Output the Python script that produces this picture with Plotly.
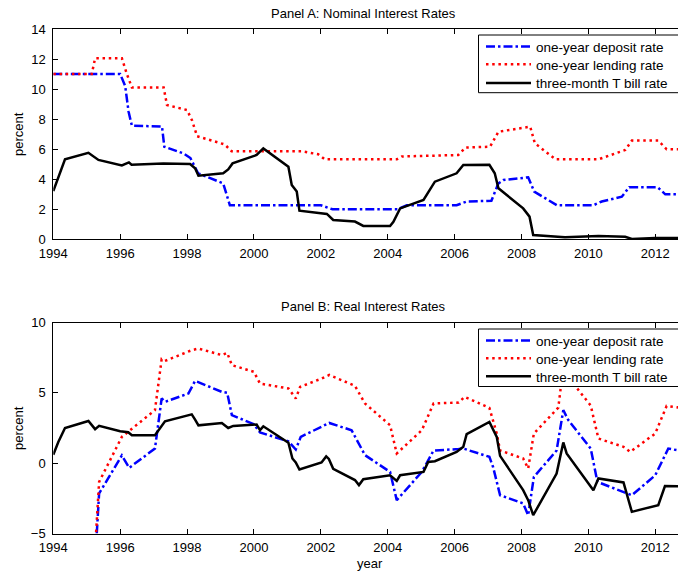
import plotly.graph_objects as go

# ---------------- data ----------------
years_ticks = [1994, 1996, 1998, 2000, 2002, 2004, 2006, 2008, 2010, 2012]
series_names = ["one-year deposit rate", "one-year lending rate", "three-month T bill rate"]

# Panel A: nominal
dep_nom_x = [1994.0, 1996.0, 1996.15, 1996.25, 1996.35, 1997.25, 1997.32, 1997.9, 1998.1, 1998.33,
             1999.08, 1999.28, 2002.0, 2002.35, 2004.3, 2004.57, 2006.06, 2006.36, 2007.1, 2007.31,
             2007.46, 2008.2, 2008.38, 2009.06, 2010.15, 2010.4, 2011.0, 2011.22, 2012.07, 2012.3, 2012.7]
dep_nom = [11.0, 11.0, 10.2, 8.5, 7.55, 7.5, 6.15, 5.7, 5.4, 4.38,
           3.71, 2.25, 2.25, 1.98, 1.98, 2.25, 2.25, 2.5, 2.55, 3.71,
           3.93, 4.11, 3.16, 2.25, 2.25, 2.5, 2.82, 3.45, 3.45, 2.98, 2.98]

len_nom_x = [1994.0, 1995.15, 1995.25, 1996.05, 1996.2, 1996.35, 1997.3, 1997.4, 1998.0, 1998.15,
             1998.3, 1999.13, 1999.33, 2001.43, 2001.92, 2002.12, 2004.27, 2004.42, 2006.11, 2006.33,
             2007.06, 2007.31, 2008.26, 2008.4, 2009.02, 2010.3, 2011.1, 2011.3, 2012.09, 2012.34, 2012.7]
len_nom = [11.0, 11.0, 12.05, 12.05, 11.0, 10.1, 10.1, 8.93, 8.6, 7.9,
           6.85, 6.3, 5.85, 5.85, 5.65, 5.31, 5.31, 5.5, 5.6, 6.1,
           6.15, 7.15, 7.49, 6.38, 5.31, 5.31, 5.93, 6.56, 6.56, 5.98, 5.98]

tb_nom_x = [1994.0, 1994.2, 1994.35, 1995.05, 1995.35, 1996.05, 1996.26, 1996.34, 1997.29, 1998.09,
            1998.24, 1998.34, 1999.08, 1999.23, 1999.36, 2000.08, 2000.18, 2000.28, 2001.03, 2001.13,
            2001.28, 2001.36, 2002.18, 2002.37, 2003.02, 2003.27, 2004.07, 2004.17, 2004.37, 2005.07,
            2005.41, 2006.06, 2006.26, 2007.04, 2007.2, 2007.31, 2008.05, 2008.24, 2008.35, 2009.3,
            2010.3, 2011.1, 2011.3, 2012.0, 2012.7]
tb_nom = [3.2, 4.4, 5.31, 5.75, 5.27, 4.9, 5.11, 4.95, 5.04, 5.0,
          4.71, 4.22, 4.38, 4.64, 5.04, 5.6, 5.82, 6.04, 4.82, 3.6,
          3.16, 1.89, 1.67, 1.27, 1.16, 0.87, 0.87, 1.15, 2.04, 2.6,
          3.82, 4.38, 4.93, 4.95, 4.38, 3.38, 2.04, 1.49, 0.27, 0.11,
          0.2, 0.15, 0.0, 0.07, 0.07]

# Panel B: real
dep_real_x = [1995.3, 1995.37, 1996.05, 1996.27, 1997.04, 1997.24, 1997.34, 1998.04, 1998.24, 1999.04,
              1999.2, 1999.34, 2000.0, 2000.18, 2001.03, 2001.25, 2001.4, 2002.25, 2002.92, 2003.32,
              2004.07, 2004.27, 2005.02, 2005.37, 2006.12, 2006.26, 2007.04, 2007.15, 2007.36, 2008.05,
              2008.2, 2008.37, 2009.05, 2009.25, 2009.4, 2010.07, 2010.27, 2011.05, 2011.3, 2012.0,
              2012.39, 2012.7]
dep_real = [-5.0, -2.15, 0.55, -0.33, 1.04, 4.6, 4.36, 4.95, 5.85, 5.07,
            5.0, 3.41, 2.77, 2.18, 1.55, 0.97, 1.87, 2.86, 2.34, 0.57,
            -0.62, -2.63, -0.62, 0.9, 1.0, 1.04, 0.45, -0.27, -2.28, -2.86,
            -3.7, -0.98, 0.9, 3.77, 3.06, 1.04, -1.33, -2.04, -2.28, -0.86,
            1.04, 0.9]

len_real_x = [1995.28, 1995.37, 1996.05, 1996.27, 1997.04, 1997.24, 1997.34, 1998.14, 1998.34, 1999.04,
              1999.2, 1999.34, 2000.0, 2000.18, 2001.03, 2001.25, 2001.38, 2002.03, 2002.25, 2003.02,
              2003.32, 2004.07, 2004.27, 2005.02, 2005.37, 2006.12, 2006.3, 2007.04, 2007.26, 2007.36,
              2008.05, 2008.2, 2008.37, 2009.1, 2009.25, 2009.4, 2010.07, 2010.3, 2011.05, 2011.25,
              2012.0, 2012.34, 2012.7]
len_real = [-4.9, -1.33, 1.87, 2.3, 3.77, 7.39, 7.27, 8.03, 8.15, 7.68,
            7.84, 6.97, 6.49, 5.66, 5.31, 4.6, 5.42, 6.02, 6.27, 5.5,
            4.24, 2.7, 0.69, 2.34, 4.24, 4.31, 4.71, 3.93, 2.11, 0.9,
            0.33, -0.38, 2.11, 3.95, 6.8, 6.1, 4.1, 1.75, 1.16, 0.8,
            2.11, 4.07, 3.96]

tb_real_x = [1994.0, 1994.15, 1994.35, 1995.05, 1995.25, 1995.37, 1996.0, 1996.24, 1996.35, 1997.04,
             1997.34, 1998.14, 1998.24, 1998.34, 1999.04, 1999.23, 1999.38, 2000.08, 2000.18, 2000.28,
             2001.03, 2001.15, 2001.25, 2001.36, 2002.02, 2002.16, 2002.24, 2002.37, 2003.02, 2003.14,
             2003.27, 2004.07, 2004.27, 2004.37, 2005.07, 2005.21, 2005.41, 2006.06, 2006.26, 2006.36,
             2007.04, 2007.26, 2007.36, 2008.05, 2008.2, 2008.35, 2009.05, 2009.25, 2009.35, 2010.15,
             2010.3, 2011.05, 2011.3, 2012.09, 2012.29, 2012.7]
tb_real = [0.6, 1.5, 2.5, 3.0, 2.42, 2.65, 2.27, 2.2, 1.98, 1.98,
           2.97, 3.47, 3.1, 2.69, 2.86, 2.5, 2.65, 2.75, 2.35, 2.62,
           1.45, 0.33, 0.05, -0.45, 0.05, 0.48, 0.3, -0.4, -1.2, -1.56,
           -1.14, -0.86, -1.26, -0.86, -0.62, 0.09, 0.14, 0.8, 1.16, 2.06,
           2.93, 1.87, 0.52, -1.92, -2.63, -3.7, -0.74, 1.47, 0.69, -1.92,
           -1.09, -1.37, -3.46, -2.98, -1.63, -1.65]

# ---------------- figure ----------------
W, H = 678, 571
FONT = "Liberation Sans, Arial, Helvetica, sans-serif"

def X(px):
    return px / W

def Y(py):
    return 1 - py / H

styles = [
    dict(color="#0000ff", width=2.5, dash="9px,3px,2.5px,3px"),
    dict(color="#ff0000", width=2.5, dash="2.5px,3.7px"),
    dict(color="#000000", width=2.5, dash="solid"),
]

# legend row centres (window pixels) for each panel
rowsA = [46.7, 64.5, 83.3]
rowsB = [340.7, 358.5, 376.5]

fig = go.Figure()
panelA = [(dep_nom_x, dep_nom), (len_nom_x, len_nom), (tb_nom_x, tb_nom)]
panelB = [(dep_real_x, dep_real), (len_real_x, len_real), (tb_real_x, tb_real)]
legend_layouts = {}
legend_common = dict(bgcolor="rgba(0,0,0,0)", borderwidth=0,
                     font=dict(family=FONT, size=13.5, color="black"),
                     xref="paper", yref="paper", xanchor="left", yanchor="top",
                     itemwidth=45)
k = 0
for panel, rows, xa, ya in [(panelA, rowsA, "x", "y"), (panelB, rowsB, "x2", "y2")]:
    for (xs, ys), name, st, r in zip(panel, series_names, styles, rows):
        k += 1
        lname = "legend" if k == 1 else f"legend{k}"
        fig.add_trace(go.Scatter(x=xs, y=ys, mode="lines", name=name, line=st,
                                 xaxis=xa, yaxis=ya, legend=lname, hoverinfo="skip"))
        legend_layouts[lname] = dict(legend_common, x=X(481), y=Y(r - 15.5))

xax = dict(range=[1994, 2012.68], tickvals=years_ticks, ticks="inside", ticklen=5,
           tickcolor="black", showline=True, linecolor="black", linewidth=1, mirror="ticks",
           showgrid=False, zeroline=False, tickfont=dict(family=FONT, size=13, color="black"),
           domain=[X(53.3), 1.0], automargin=False, ticklabelstandoff=2)
yax_common = dict(ticks="inside", ticklen=5, tickcolor="black", showline=True, linecolor="black",
                  linewidth=1, mirror=False, showgrid=False, zeroline=False,
                  tickfont=dict(family=FONT, size=13, color="black"), automargin=False,
                  ticklabelstandoff=4)

box_style = dict(type="rect", xref="paper", yref="paper", fillcolor="white",
                 line=dict(color="black", width=1), layer="above")

fig.update_layout(
    width=W, height=H,
    margin=dict(l=0, r=0, t=0, b=0),
    paper_bgcolor="white", plot_bgcolor="white",
    xaxis=dict(xax, anchor="y"),
    yaxis=dict(yax_common, range=[0, 14], tickvals=[0, 2, 4, 6, 8, 10, 12, 14],
               domain=[Y(239), Y(29)], anchor="x"),
    xaxis2=dict(xax, anchor="y2"),
    yaxis2=dict(yax_common, range=[-5, 10], tickvals=[-5, 0, 5, 10],
                domain=[Y(533.5), Y(322.5)], anchor="x2"),
    showlegend=True,
    hovermode=False,
    shapes=[
        dict(box_style, x0=X(478.5), x1=1.02, y0=Y(92.7), y1=Y(35)),
        dict(box_style, x0=X(478.5), x1=1.02, y0=Y(386.5), y1=Y(329)),
    ],
    annotations=[
        dict(text="Panel A: Nominal Interest Rates", x=X(363), y=Y(13.5), xref="paper", yref="paper",
             xanchor="center", yanchor="middle", showarrow=False,
             font=dict(family=FONT, size=13, color="black")),
        dict(text="Panel B: Real Interest Rates", x=X(363), y=Y(306.5), xref="paper", yref="paper",
             xanchor="center", yanchor="middle", showarrow=False,
             font=dict(family=FONT, size=13, color="black")),
        dict(text="percent", x=X(18), y=Y(134), xref="paper", yref="paper", textangle=-90,
             xanchor="center", yanchor="middle", showarrow=False,
             font=dict(family=FONT, size=13, color="black")),
        dict(text="percent", x=X(18), y=Y(428), xref="paper", yref="paper", textangle=-90,
             xanchor="center", yanchor="middle", showarrow=False,
             font=dict(family=FONT, size=13, color="black")),
        dict(text="year", x=X(370), y=Y(563), xref="paper", yref="paper",
             xanchor="center", yanchor="middle", showarrow=False,
             font=dict(family=FONT, size=13, color="black")),
    ],
    **legend_layouts,
)

# remove the default page margin so the figure fills the window exactly
fig.write_html("out.html", config={"displayModeBar": False},
               post_script="document.body.style.margin='0px';")
